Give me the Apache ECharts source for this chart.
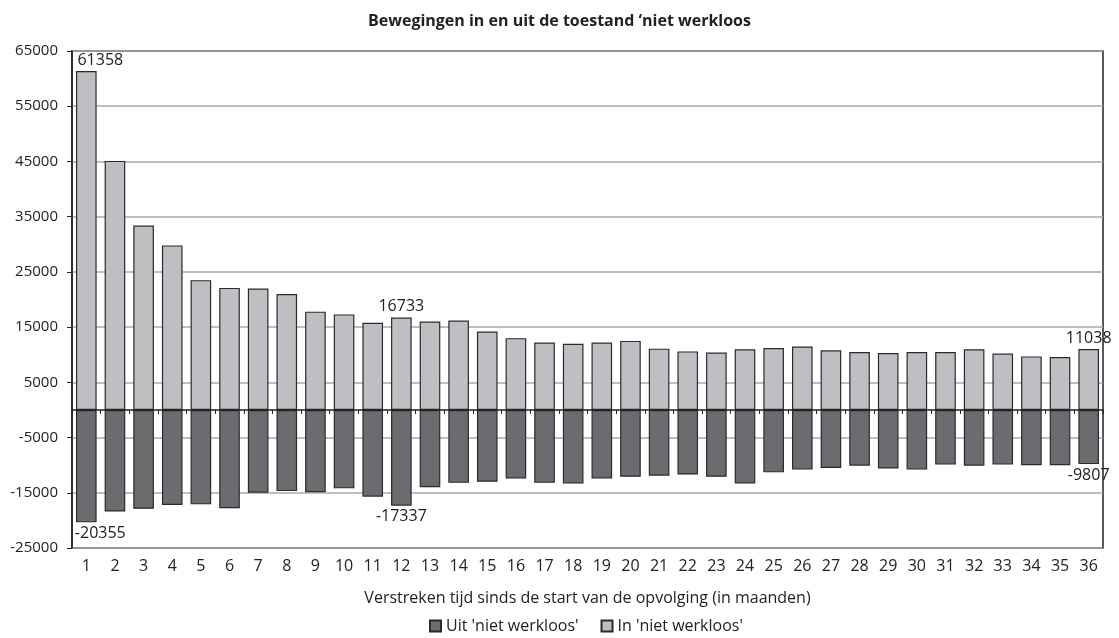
<!DOCTYPE html>
<html>
<head>
<meta charset="utf-8">
<script src="https://cdn.jsdelivr.net/npm/echarts@6/dist/echarts.min.js"></script>
<style>
html,body{margin:0;padding:0;background:#fff;}
#chart{width:1119px;height:638px;}
</style>
</head>
<body>
<div id="chart"></div>
<script>
const categories = ['1','2','3','4','5','6','7','8','9','10','11','12','13','14','15','16','17','18','19','20','21','22','23','24','25','26','27','28','29','30','31','32','33','34','35','36'];
const uitValues = [-20355,-18400,-17900,-17200,-17100,-17800,-15000,-14700,-14900,-14200,-15700,-17337,-14000,-13200,-13000,-12400,-13200,-13300,-12400,-12100,-11900,-11700,-12100,-13300,-11300,-10800,-10500,-10100,-10600,-10800,-9900,-10100,-9900,-10000,-10000,-9807];
const inValues = [61358,45100,33400,29800,23500,22100,22000,21000,17800,17300,15800,16733,16000,16200,14200,13000,12200,12000,12200,12500,11100,10600,10400,11000,11200,11500,10800,10500,10300,10500,10500,11000,10200,9700,9600,11038];
const labelledIdx = [0, 11, 35];
const seriesNames = ["Uit 'niet werkloos'", "In 'niet werkloos'"];
const titleText = "Bewegingen in en uit de toestand \u2018niet werkloos";
const xAxisTitle = "Verstreken tijd sinds de start van de opvolging (in maanden)";

const FONT = 'Open Sans';
function buildData(values, pos) {
  return values.map(function (v, i) {
    if (labelledIdx.indexOf(i) >= 0) {
      return {
        value: v,
        label: {
          show: true,
          position: pos,
          distance: 3,
          offset: i === 0 ? [14, 0] : [0, 0],
          color: '#222',
          fontFamily: FONT,
          fontSize: 16
        }
      };
    }
    return v;
  });
}

const chart = echarts.init(document.getElementById('chart'));
chart.setOption({
  animation: false,
  backgroundColor: '#fff',
  title: {
    text: titleText,
    left: 'center',
    top: 8,
    textStyle: {fontFamily: FONT, fontSize: 16, fontWeight: 'bold', color: '#222'}
  },
  legend: {
    top: 613,
    left: 424,
    icon: 'rect',
    itemWidth: 11,
    itemHeight: 11,
    itemGap: 22,
    textStyle: {fontFamily: FONT, fontSize: 16, color: '#222'},
    data: seriesNames
  },
  grid: {
    left: 72,
    right: 16,
    top: 51,
    bottom: 90,
    show: true,
    borderColor: '#222',
    borderWidth: 1.5,
    containLabel: false
  },
  xAxis: [
    {
      type: 'category',
      data: categories,
      position: 'bottom',
      axisLine: {show: false, onZero: false},
      axisTick: {show: false},
      axisLabel: {margin: 10, fontFamily: FONT, fontSize: 16, color: '#222'},
      name: xAxisTitle,
      nameLocation: 'middle',
      nameGap: 42,
      nameTextStyle: {fontFamily: FONT, fontSize: 16, color: '#222'}
    },
    {
      type: 'category',
      data: categories,
      position: 'bottom',
      z: 10,
      axisLine: {show: true, onZero: true, lineStyle: {color: '#222', width: 1.5}},
      axisTick: {show: true, inside: false, length: 4, lineStyle: {color: '#222', width: 1}},
      axisLabel: {show: false},
      splitLine: {show: false}
    }
  ],
  yAxis: {
    type: 'value',
    min: -25000,
    max: 65000,
    interval: 10000,
    axisLine: {show: true, lineStyle: {color: '#222', width: 1.5}},
    axisTick: {show: true, length: 5, lineStyle: {color: '#222'}},
    axisLabel: {fontFamily: FONT, fontSize: 15, color: '#222', margin: 14, formatter: function (v) { return String(v); }},
    splitLine: {show: true, lineStyle: {color: '#aaa', width: 1.5}}
  },
  series: [
    {
      name: seriesNames[0],
      type: 'bar',
      xAxisIndex: 0,
      data: buildData(uitValues, 'bottom'),
      barWidth: '72%',
      barGap: '-100%',
      itemStyle: {color: '#6b6c70', borderColor: '#2b2b2b', borderWidth: 1.2}
    },
    {
      name: seriesNames[1],
      type: 'bar',
      xAxisIndex: 0,
      data: buildData(inValues, 'top'),
      barWidth: '72%',
      barGap: '-100%',
      itemStyle: {color: '#bebfc3', borderColor: '#2b2b2b', borderWidth: 1.2}
    }
  ]
});
</script>
</body>
</html>
